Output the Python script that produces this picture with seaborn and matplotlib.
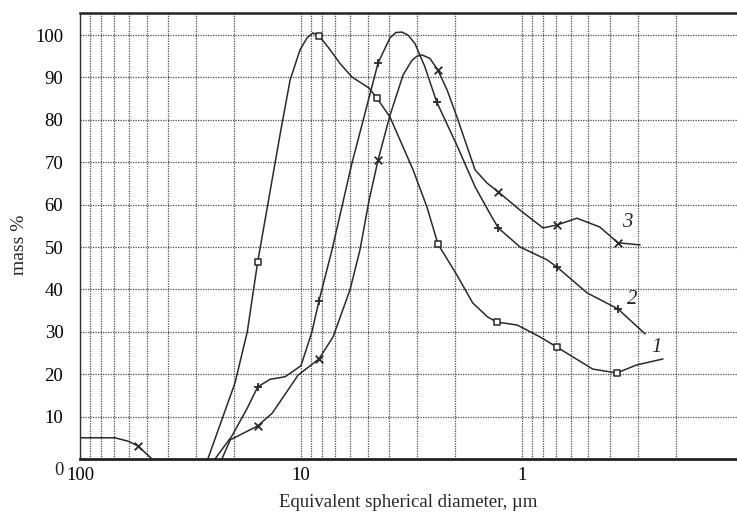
import pandas as pd
import matplotlib
matplotlib.use("Agg")
import matplotlib.pyplot as plt
import seaborn as sns
from matplotlib.ticker import LogLocator, NullFormatter

# --------------------
# DATA
# --------------------
# curve 1 - open squares
d1 = [26.4, 19.9, 17.5, 15.7, 12.4, 11.2, 10.1, 9.40, 8.83, 8.29, 7.55, 6.66, 5.88, 4.92, 4.53,
      3.96, 3.11, 2.69, 2.40, 1.97, 1.67, 1.43, 1.30, 1.05, 0.829, 0.695, 0.478, 0.372, 0.302, 0.230]
m1 = [0, 17.9, 30, 46.5, 76.9, 89.4, 96.5, 99.3, 100.5, 99.8, 97.2, 93.3, 90.1, 87.5, 85.1,
      80.7, 68.2, 59.4, 50.7, 43.4, 36.8, 33.5, 32.3, 31.6, 28.8, 26.4, 21.2, 20.3, 22.2, 23.6]
marks1 = [3, 9, 14, 18, 22, 25, 27]

# curve 2 - plus markers
d2 = [24.5, 20.5, 17.5, 15.7, 13.8, 11.8, 10.0, 8.92, 8.29, 7.24, 5.88, 5.13, 4.48, 3.96, 3.72,
      3.49, 3.28, 3.05, 2.75, 2.43, 1.97, 1.63, 1.40, 1.28, 1.02, 0.771, 0.695, 0.508, 0.368, 0.277]
m2 = [0, 5.5, 12, 17, 18.8, 19.4, 22, 30, 37.3, 49.3, 69.8, 81.6, 93.4, 99.3, 100.6,
      100.7, 100, 98, 92.5, 84.2, 74, 64.2, 58, 54.5, 50, 47, 45.3, 39.2, 35.4, 29.5]
marks2 = [3, 8, 12, 19, 23, 26, 28]

# curve 3 - x markers
d3 = [22.8, 20.9, 17.9, 15.7, 13.5, 10.3, 8.29, 7.16, 6.00, 5.41, 4.92, 4.48, 3.96, 3.45, 3.15,
      2.99, 2.83, 2.61, 2.40, 2.18, 1.97, 1.63, 1.44, 1.28, 1.02, 0.803, 0.695, 0.564, 0.444,
      0.368, 0.292]
m3 = [0, 4.5, 6.3, 7.8, 10.8, 19.8, 23.6, 28.8, 39.9, 49.3, 61, 70.5, 81, 90.6, 94,
      95, 95.3, 94.5, 91.7, 87, 80.7, 68.2, 65.1, 63, 58.7, 54.5, 55.2, 56.8, 54.7,
      51, 50.5]
marks3 = [3, 6, 11, 18, 23, 26, 29]

# coarse fraction at the far left (x markers)
d0 = [100, 69.5, 60.6, 54.7, 47.2]
m0 = [5.0, 5.0, 4.2, 3.1, 0]
marks0 = [3]

x_ticks = [100, 10, 1]
x_ticklabels = ["100", "10", "1"]
y_ticks = [10, 20, 30, 40, 50, 60, 70, 80, 90, 100]

# --------------------
# STYLE
# --------------------
sns.set_style("white")
plt.rcParams["font.family"] = ["Liberation Serif", "DejaVu Serif"]

ink = "#2a2a2a"
grid_kw = dict(color="#4a4a4a", linestyle=(0, (1, 1)), linewidth=0.9)

fig = plt.figure(figsize=(7.37, 5.15), dpi=100)
ax = fig.add_axes([80 / 737, 56 / 515, 657 / 737, 446 / 515])

curves = [
    (d0, m0, marks0, "x"),
    (d1, m1, marks1, "s"),
    (d2, m2, marks2, "+"),
    (d3, m3, marks3, "x"),
]

for d, m, marks, mk in curves:
    df = pd.DataFrame({"d": d, "m": m})
    sns.lineplot(data=df, x="d", y="m", estimator=None, sort=False,
                 color=ink, linewidth=1.1, ax=ax)
    pts = df.iloc[marks]
    if mk == "s":
        sns.scatterplot(data=pts, x="d", y="m", marker="s", s=22,
                        facecolor="white", edgecolor=ink, linewidth=1.1, ax=ax, zorder=5)
    else:
        sns.scatterplot(data=pts, x="d", y="m", marker=mk, s=30,
                        color=ink, linewidth=1.3, ax=ax, zorder=5)

# curve numbers
ax.text(0.245, 26.2, "1", fontsize=15, style="italic", ha="center", va="center")
ax.text(0.318, 37.7, "2", fontsize=15, style="italic", ha="center", va="center")
ax.text(0.335, 55.9, "3", fontsize=15, style="italic", ha="center", va="center")

# --------------------
# AXES
# --------------------
ax.set_xscale("log")
ax.set_xlim(100, 0.1064)
ax.set_ylim(0, 105.2)

ax.set_xticks(x_ticks, x_ticklabels)
ax.xaxis.set_minor_locator(LogLocator(base=10, subs=range(2, 10), numticks=20))
ax.xaxis.set_minor_formatter(NullFormatter())
ax.set_yticks(y_ticks)

ax.tick_params(axis="both", which="both", length=0, labelsize=13.5, colors="black")
ax.tick_params(axis="x", pad=6)
ax.tick_params(axis="y", pad=12)

ax.grid(True, which="major", axis="both", **grid_kw)
ax.grid(True, which="minor", axis="x", **grid_kw)

ax.annotate("0", xy=(0, 0), xycoords=("axes fraction", "data"),
            xytext=(-11.5, -8), textcoords="offset points",
            ha="right", va="center", fontsize=13.5)

ax.spines["right"].set_visible(False)
ax.spines["top"].set_linewidth(1.8)
ax.spines["top"].set_color("#222222")
ax.spines["bottom"].set_linewidth(2.0)
ax.spines["bottom"].set_color("#222222")
ax.spines["left"].set_linewidth(1.0)
ax.spines["left"].set_linestyle((0, (1, 1)))
ax.spines["left"].set_color("#333333")

ax.set_xlabel("Equivalent spherical diameter, µm", fontsize=13.5, labelpad=7)
ax.set_ylabel("mass %", fontsize=14)
ax.yaxis.set_label_coords(-0.079, 0.48)

fig.savefig("out.png", dpi=100)
plt.close(fig)
